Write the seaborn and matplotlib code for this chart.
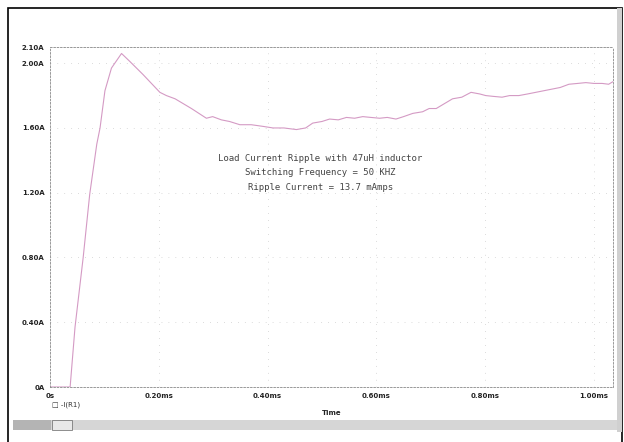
import matplotlib
matplotlib.use("Agg")
import matplotlib.pyplot as plt
import seaborn as sns
import pandas as pd
from matplotlib.patches import Rectangle

# load current I(R1), time in ms, current in A
time_ms = [0.0, 0.037, 0.046, 0.061, 0.073, 0.086, 0.092, 0.101, 0.113, 0.1315,
           0.147, 0.171, 0.202, 0.214, 0.230, 0.245, 0.260, 0.2875, 0.299, 0.315,
           0.330, 0.349, 0.370, 0.391, 0.410, 0.430, 0.453, 0.470, 0.483, 0.500,
           0.514, 0.530, 0.545, 0.560, 0.575, 0.590, 0.606, 0.620, 0.636, 0.650,
           0.667, 0.685, 0.697, 0.710, 0.725, 0.740, 0.757, 0.774, 0.790, 0.801,
           0.815, 0.831, 0.845, 0.862, 0.878, 0.893, 0.908, 0.923, 0.938, 0.954,
           0.970, 0.985, 1.000, 1.015, 1.027, 1.037]
current_a = [0.0, 0.0, 0.37, 0.80, 1.19, 1.50, 1.60, 1.83, 1.97, 2.06,
             2.01, 1.93, 1.82, 1.80, 1.78, 1.75, 1.72, 1.66, 1.67, 1.65,
             1.64, 1.62, 1.62, 1.61, 1.60, 1.60, 1.59, 1.60, 1.63, 1.64,
             1.655, 1.65, 1.665, 1.66, 1.67, 1.665, 1.66, 1.665, 1.655, 1.67,
             1.69, 1.70, 1.72, 1.72, 1.75, 1.78, 1.79, 1.82, 1.81, 1.80,
             1.795, 1.79, 1.80, 1.80, 1.81, 1.82, 1.83, 1.84, 1.85, 1.87,
             1.875, 1.88, 1.875, 1.875, 1.87, 1.89]

y_ticks = [0.0, 0.4, 0.8, 1.2, 1.6, 2.0, 2.1]
y_labels = ["0A", "0.40A", "0.80A", "1.20A", "1.60A", "2.00A", "2.10A"]
x_ticks = [0.0, 0.2, 0.4, 0.6, 0.8, 1.0]
x_labels = ["0s", "0.20ms", "0.40ms", "0.60ms", "0.80ms", "1.00ms"]
notes = ["Load Current Ripple with 47uH inductor",
         "Switching Frequency = 50 KHZ",
         "Ripple Current = 13.7 mAmps"]

df = pd.DataFrame({"Time": time_ms, "I(R1)": current_a})

sns.set_style("white")
plt.rcParams["font.family"] = ["DejaVu Sans"]

fig = plt.figure(figsize=(6.24, 4.42), dpi=100)
ax = fig.add_axes([50 / 624, 1 - 387 / 442, 563 / 624, 340 / 442])

sns.lineplot(data=df, x="Time", y="I(R1)", ax=ax, color="#d49ac4", lw=0.8)

ax.set_xlim(0, 1.035)
ax.set_ylim(0, 2.1)
ax.set_xticks(x_ticks)
ax.set_xticklabels(x_labels)
ax.set_yticks(y_ticks)
ax.set_yticklabels(y_labels)
ax.tick_params(labelsize=5, length=2, width=0.5, colors="#555555", labelcolor="#222222", pad=2)
for lbl in ax.get_xticklabels() + ax.get_yticklabels():
    lbl.set_fontweight("bold")
ax.set_xlabel("Time", fontsize=5, color="#222222", labelpad=8, fontweight="bold")
ax.set_ylabel("")
ax.grid(True, color="#bbbbbb", lw=0.5, linestyle=(0, (1, 9)))
for s in ax.spines.values():
    s.set_linestyle((0, (2, 2)))
    s.set_linewidth(0.6)
    s.set_color("#888888")

for i, t in enumerate(notes):
    ax.text(0.48, 0.673 - i * 0.043, t, transform=ax.transAxes, ha="center",
            va="center", fontsize=6.5, color="#444444", family="DejaVu Sans Mono")

# legend entry under the axis, PSpice style
fig.text(52 / 624, 1 - 405 / 442, "\u25a1 -I(R1)", fontsize=5, color="#333333", va="center")

# window frame and scrollbar
fig.patches.append(Rectangle((8 / 624, -0.05), 614 / 624, 434 / 442 + 0.05, transform=fig.transFigure,
                             fill=False, edgecolor="black", lw=1.2))
fig.patches.append(Rectangle((13 / 624, 1 - 430 / 442), 607 / 624, 10 / 442,
                             transform=fig.transFigure, facecolor="#d6d6d6", edgecolor="none"))
fig.patches.append(Rectangle((13 / 624, 1 - 430 / 442), 38 / 624, 10 / 442,
                             transform=fig.transFigure, facecolor="#b4b4b4", edgecolor="none"))
fig.patches.append(Rectangle((52 / 624, 1 - 430 / 442), 20 / 624, 10 / 442,
                             transform=fig.transFigure, facecolor="#e8e8e8", edgecolor="#666666", lw=0.5))
fig.patches.append(Rectangle((617 / 624, 1 - 432 / 442), 5 / 624, 424 / 442,
                             transform=fig.transFigure, facecolor="#d0d0d0", edgecolor="none"))

fig.savefig("out.png", dpi=100)
